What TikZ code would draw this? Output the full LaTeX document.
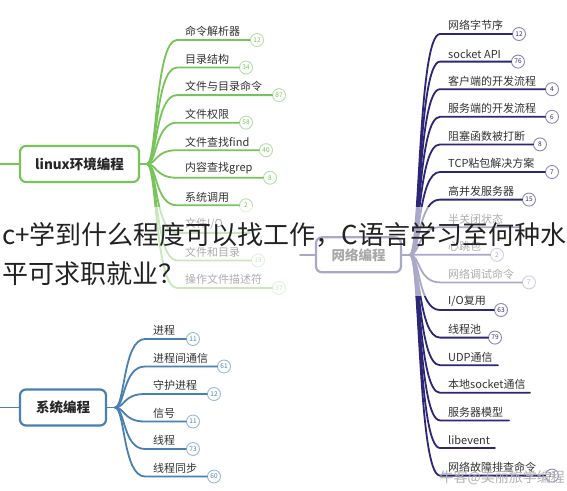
\documentclass[tikz,border=0pt]{standalone}
\usepackage{fontspec}
\setmainfont{Noto Sans CJK SC}
\usetikzlibrary{positioning}
\definecolor{linuxg}{RGB}{120,196,90}
\definecolor{sysb}{RGB}{72,128,178}
\definecolor{netp}{RGB}{44,38,118}
\definecolor{leaftxt}{RGB}{50,50,50}
\definecolor{titletxt}{RGB}{34,34,34}
\tikzset{
  root/.style={
    rounded corners=6pt, draw, line width=2.2pt, fill=white, align=center,
    inner sep=0pt, minimum height=36pt, text=black!85,
    font=\bfseries\fontsize{13.5}{16}\selectfont
  },
  leaf/.style={inner sep=0pt, text=leaftxt, font=\fontsize{11}{13}\selectfont},
  badge/.style={
    circle, draw, fill=white, line width=0.9pt, minimum size=13pt,
    inner sep=0pt, font=\fontsize{6.5}{7}\selectfont
  },
  branch/.style={line width=1.8pt, line cap=round}
}
\begin{document}
\begin{tikzpicture}[x=1pt, y=-1pt, node distance=3pt and 8pt]
\useasboundingbox[fill=white] (0,0) rectangle (567,490);

% linux
\node[root, draw=linuxg, minimum width=119pt] (linux) at (79.5,164) {linux环境编程};
\coordinate (lstub) at (0,164);
\coordinate (lo) at (147,164);
\draw[branch, linuxg] (lstub) -- (linux);
\draw[branch, linuxg] (linux) -- (lo);
\foreach \i/\txt/\bx/\num in {1/命令解析器/257/12, 2/目录结构/246/34, 3/文件与目录命令/279/87,
    4/文件权限/246/58, 5/文件查找find/266/40, 6/内容查找grep/270/8, 7/系统调用/246/2,
    9/文件和目录/258/19, 10/操作文件描述符/279/37} {
  \coordinate (ls\i) at (177,{40+27.55*(\i-1)});
  \node[badge, draw=linuxg!55, text=linuxg] (lb\i) at (\bx,{40+27.55*(\i-1)}) {\num};
  \node[leaf, above right=of ls\i] (lt\i) {\txt};
  \draw[branch, linuxg] (lo) .. controls +(10,0) and +(-22,0) .. (ls\i) -- (lb\i);
}
\coordinate (ls8) at (177,{40+27.55*7});
\coordinate (le8) at (250,{40+27.55*7});
\node[leaf, above right=of ls8] (lt8) {文件I/O};
\draw[branch, linuxg] (lo) .. controls +(10,0) and +(-22,0) .. (ls8) -- (le8);

% system
\node[root, draw=sysb, minimum width=86pt] (sys) at (63,407.5) {系统编程};
\coordinate (sstub) at (0,407.5);
\coordinate (so) at (115,407.5);
\draw[branch, sysb] (sstub) -- (sys);
\draw[branch, sysb] (sys) -- (so);
\foreach \i/\txt/\bx/\num in {1/进程/193/11, 2/进程间通信/224/61, 3/守护进程/214/12,
    4/信号/193/11, 5/线程/193/73, 6/线程同步/214/60} {
  \coordinate (ss\i) at (145,{339+27.5*(\i-1)});
  \node[badge, draw=sysb!55, text=sysb] (sb\i) at (\bx,{339+27.5*(\i-1)}) {\num};
  \node[leaf, above right=of ss\i] (st\i) {\txt};
  \draw[branch, sysb] (so) .. controls +(10,0) and +(-22,0) .. (ss\i) -- (sb\i);
}

% network
\node[root, draw=netp, minimum width=85pt, minimum height=35pt] (net) at (358.5,254.8) {网络编程};
\coordinate (nstub) at (300,254.8);
\coordinate (no) at (410,254.8);
\draw[branch, netp] (nstub) -- (net);
\draw[branch, netp] (net) -- (no);
\foreach \i/\txt/\bx/\num in {1/网络字节序/519/12, 2/socket API/518/76, 3/客户端的开发流程/552/4,
    4/服务端的开发流程/552/6, 5/阻塞函数被打断/540/8, 6/TCP粘包解决方案/552/7,
    7/高并发服务器/529/15, 9/心跳包/497/2, 10/网络调试命令/529/7,
    11/{I/O复用}/501/63, 12/线程池/495/79, 17/网络故障排查命令/552/23} {
  \coordinate (ns\i) at (440,{34+27.6*(\i-1)});
  \node[badge, draw=netp!55, text=netp] (nb\i) at (\bx,{34+27.6*(\i-1)}) {\num};
  \node[leaf, above right=of ns\i] (nt\i) {\txt};
  \draw[branch, netp] (no) .. controls +(10,0) and +(-22,0) .. (ns\i) -- (nb\i);
}
\foreach \i/\txt/\ex in {8/半关闭状态/520, 13/UDP通信/498, 14/本地socket通信/530,
    15/服务器模型/509, 16/libevent/495} {
  \coordinate (ns\i) at (440,{34+27.6*(\i-1)});
  \coordinate (ne\i) at (\ex,{34+27.6*(\i-1)});
  \node[leaf, above right=of ns\i] (nt\i) {\txt};
  \draw[branch, netp] (no) .. controls +(10,0) and +(-22,0) .. (ns\i) -- (ne\i);
}

% title band
\fill[white, opacity=0.6] (0,207) rectangle (567,296);
\node[anchor=west, inner sep=0pt, text=titletxt, font=\fontsize{26}{30}\selectfont] (title1) at (2,235) {c+学到什么程度可以找工作，C语言学习至何种水};
\node[anchor=west, inner sep=0pt, text=titletxt, font=\fontsize{26}{30}\selectfont] (title2) at (2,274) {平可求职就业？};
\node[anchor=east, inner sep=0pt, text=black!30, font=\fontsize{14}{16}\selectfont] (mark) at (565,478) {牛客@美丽旅学编程};
\end{tikzpicture}
\end{document}
